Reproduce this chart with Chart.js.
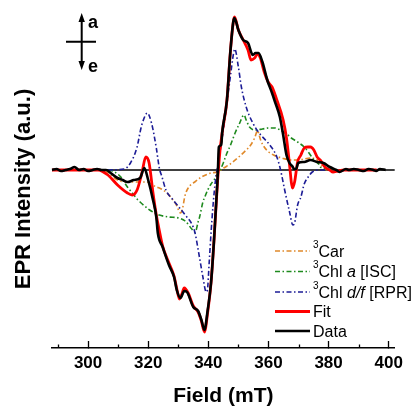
<!DOCTYPE html>
<html>
<head>
<meta charset="utf-8">
<script src="https://cdn.jsdelivr.net/npm/chart.js@4.4.0/dist/chart.umd.min.js"></script>
<style>
  html, body { margin: 0; padding: 0; background: #fff; }
</style>
</head>
<body>
<canvas id="eprChart" width="415" height="407"></canvas>
<script>
// field (mT), intensity (a.u.) pairs
const dataCurve = [
  [288,0],[289.5,1],[291,-1],[292.5,0],[294,1],[295.5,3],[297,0],[298.5,1],[300,-1],[301.5,0],[303,1],[304.5,0],[306,0],
  [307.5,-3],[309.8,-8],[311.5,-10],[313.1,-12],[315.2,-10],[317.3,-8],[318.7,2],[320.0,-10],[321.6,-30],[322.7,-47],
  [323.2,-63],[324.8,-77],[326.9,-95],[328.6,-107],[329.6,-121],[330.7,-128],[332.0,-121],[332.9,-122],[335.0,-137],
  [336.6,-141],[337.7,-150],[338.7,-160],[339.8,-140],[340.9,-113],[341.9,-70],[343.0,-13],[343.2,0],[343.5,23],
  [344.3,25],[344.6,37],[346.2,70],[347.3,117],[348.3,148],[348.7,152],[350.0,140],[351.6,130],[353.2,127],[354.8,115],
  [355.7,117],[356.7,117],[358.0,108],[359.6,90],[361.2,77],[362.2,68],[363.8,53],[364.9,35],[366.0,15],[367.0,7],
  [367.9,4],[368.6,1],[369.2,1],[369.9,7],[371.9,8],[374.0,10],[376.2,8],[378.3,7],[380.4,3],[382.6,0],[383.6,-2],
  [385.8,1],[386.8,0],[388.4,1],[390.1,0],[391.7,-1],[393.3,1],[394.9,0],[395.8,-1],[397.1,1],[399.0,0]
];

const fitCurve = [
  [288,0],[303.4,0],[306.6,-5],[309.8,-15],[313.1,-23],[314.7,-25],[316.3,-20],[317.9,-3],[319.2,13],[320.3,7],
  [321.6,-23],[322.7,-45],[323.6,-59],[324.8,-76],[326.9,-93],[328.6,-106],[329.6,-120],[330.4,-129],[331.2,-124],
  [332.0,-118],[333.3,-123],[335.0,-136],[336.6,-142],[337.7,-151],[338.7,-162],[339.8,-142],[340.9,-113],[341.9,-70],
  [343.0,-15],[343.9,20],[344.6,37],[346.2,70],[347.3,117],[348.3,148],[348.7,153],[350.0,140],[351.6,130],[353.2,120],
  [354.2,110],[355.4,112],[356.4,116],[357.3,112],[358.6,98],[359.9,88],[361.2,83],[362.8,70],[364.9,50],[366.0,32],
  [367.1,3],[367.6,-12],[368.0,-18],[368.7,-12],[369.7,8],[370.8,15],[371.9,22],[373.1,23],[374.0,23],[375.1,20],
  [376.2,13],[377.2,10],[378.8,3],[380.4,0],[381.5,-2],[383.1,-1],[385.2,0],[396,0]
];

const chlDfCurve = [
  [306.6,0],[312.0,1],[314.1,7],[316.3,23],[317.6,42],[318.4,50],[319.7,57],[321.1,47],[322.7,22],[323.7,2],[324.6,-7],
  [325.9,-20],[328.0,-29],[330.2,-37],[332.3,-45],[334.5,-54],[335.5,-62],[337.1,-88],[338.2,-107],[339.3,-122],
  [339.7,-120],[340.3,-92],[341.2,-50],[342.2,-15],[343.2,5],[344.5,30],[346.1,65],[347.4,95],[348.3,115],[348.8,121],
  [350.0,103],[351.0,83],[352.6,63],[354.8,47],[356.9,37],[359.0,30],[361.2,22],[362.8,13],[363.8,3],[364.4,-5],
  [365.4,-20],[367.1,-43],[368.1,-55],[368.7,-53],[369.7,-35],[370.8,-27],[371.9,-14],[373.0,-8],[374.6,-2],[377.2,0],[380,0]
];

const chlACurve = [
  [306.6,0],[308.8,-2],[310.9,-7],[312.0,-12],[313.1,-17],[314.7,-23],[316.3,-29],[317.3,-32],[320.5,-40],[323.7,-45],
  [326.9,-47],[330.2,-48],[332.3,-51],[334.5,-59],[335.6,-62.5],[336.6,-52],[337.1,-47],[338.2,-32],[338.7,-28],
  [339.8,-20],[340.9,-14],[341.9,-10],[343.0,-4],[344.1,1],[345.1,8],[346.2,17],[347.4,25],[348.9,37],[350.3,46],
  [351.9,55],[352.6,50],[353.7,43],[355.8,40],[358.0,41],[360.1,42],[362.2,42],[364.4,39],[366.5,35],[367.6,32],
  [369.7,28],[371.9,23],[373.5,17],[375.1,10],[376.7,6],[377.2,3],[378.8,1.5],[380.4,0],[382,0]
];

const carCurve = [
  [305.6,0],[307.6,-5],[309.8,-10],[314.1,-12],[317.3,-12],[319.5,-12],[320.5,-13],[322.7,-17],[323.7,-18],[325.9,-22],
  [328.0,-29],[329.4,-35],[330.7,-43],[331.3,-40],[332.3,-25],[333.3,-18],[334.5,-14],[335.5,-12],[337.7,-7],[340.9,-3],
  [343.0,-2],[344.1,0],[345.1,2],[347.3,6],[350.5,14],[352.6,20],[354.1,25],[355.4,32],[356.4,39.5],[356.8,36],
  [357.4,30],[358.6,23],[360.1,18],[361.7,15],[363.3,13],[364.4,12],[367.6,10],[370.8,10.5],[374.0,12],[375.3,11.5],
  [376.2,10],[377.2,5],[378.3,3],[379.1,0.5],[380.4,0]
];

const zeroLine = [[288,0],[402,0]];

const xMajorTicks = [300, 320, 340, 360, 380, 400];
const xMinorTicks = [290, 310, 330, 350, 370, 390];

// legend text pieces: [text, style] with style n / i / sup
const legendLabels = [
  [['3','sup'],['Car','n']],
  [['3','sup'],['Chl ','n'],['a','i'],[' [ISC]','n']],
  [['3','sup'],['Chl ','n'],['d/f','i'],[' [RPR]','n']],
  [['Fit','n']],
  [['Data','n']]
];

const FONT = '"Liberation Sans", Arial, sans-serif';
const toXY = arr => arr.map(p => ({x: p[0], y: p[1]}));

function line(label, pts, color, width, dash) {
  return {
    label: label,
    data: toXY(pts),
    showLine: true,
    borderColor: color,
    backgroundColor: color,
    borderWidth: width,
    borderDash: dash || [],
    pointRadius: 0,
    fill: false,
    cubicInterpolationMode: 'monotone',
    clip: false
  };
}

const dashDot = [5, 2.5, 1.5, 2.5];
const datasets = [
  line('Data', dataCurve, '#000000', 2.6),
  line('Fit', fitCurve, '#ff0000', 2.8),
  line('3Chl d/f [RPR]', chlDfCurve, '#1c1c96', 1.6, dashDot),
  line('3Chl a [ISC]', chlACurve, '#1e8a1e', 1.6, dashDot),
  line('3Car', carCurve, '#e0892a', 1.6, dashDot),
  Object.assign(line('zero', zeroLine, '#000000', 1.3), {cubicInterpolationMode: 'default', tension: 0})
];
// legend order -> dataset index
const legendOrder = [4, 3, 2, 1, 0];

const decorPlugin = {
  id: 'decor',
  afterDraw(chart) {
    const ctx = chart.ctx;
    const xs = chart.scales.x;
    const axisY = xs.top;
    ctx.save();

    // minor ticks
    ctx.strokeStyle = '#000';
    ctx.lineWidth = 1.3;
    xMinorTicks.forEach(v => {
      const px = Math.round(xs.getPixelForValue(v)) + 0.5;
      ctx.beginPath();
      ctx.moveTo(px, axisY);
      ctx.lineTo(px, axisY - 3.5);
      ctx.stroke();
    });

    // absorption / emission arrow
    const ax = 81.7;
    ctx.lineWidth = 2;
    ctx.beginPath();
    ctx.moveTo(ax, 20); ctx.lineTo(ax, 63);
    ctx.moveTo(66, 41.7); ctx.lineTo(96, 41.7);
    ctx.stroke();
    ctx.fillStyle = '#000';
    ctx.beginPath();
    ctx.moveTo(ax, 13); ctx.lineTo(ax - 3.2, 22); ctx.lineTo(ax + 3.2, 22); ctx.closePath();
    ctx.moveTo(ax, 70); ctx.lineTo(ax - 3.2, 61); ctx.lineTo(ax + 3.2, 61); ctx.closePath();
    ctx.fill();
    ctx.font = 'bold 18px ' + FONT;
    ctx.textBaseline = 'alphabetic';
    ctx.textAlign = 'left';
    ctx.fillText('a', 88, 28);
    ctx.fillText('e', 88, 72);

    // legend
    const rowY = [251, 271.5, 292, 311.5, 331];
    legendOrder.forEach((di, i) => {
      const ds = chart.data.datasets[di];
      const y = rowY[i];
      ctx.strokeStyle = ds.borderColor;
      ctx.lineWidth = ds.borderWidth;
      ctx.setLineDash(ds.borderDash);
      ctx.beginPath();
      ctx.moveTo(275, y); ctx.lineTo(310, y);
      ctx.stroke();
      ctx.setLineDash([]);
      let x = 313;
      const base = y + 5.8;
      legendLabels[i].forEach(([txt, st]) => {
        if (st === 'sup') {
          ctx.font = '10px ' + FONT;
          ctx.fillText(txt, x, base - 9);
        } else {
          ctx.font = (st === 'i' ? 'italic ' : '') + '16px ' + FONT;
          ctx.fillText(txt, x, base);
        }
        x += ctx.measureText(txt).width;
      });
    });
    ctx.restore();
  }
};

const config = {
  type: 'scatter',
  data: { datasets: datasets },
  options: {
    responsive: false,
    animation: false,
    layout: { padding: { left: 0, right: 7.7, top: 30, bottom: 0 } },
    plugins: { legend: { display: false }, tooltip: { enabled: false } },
    scales: {
      x: {
        type: 'linear',
        min: 288,
        max: 402,
        afterBuildTicks: s => { s.ticks = xMajorTicks.map(v => ({ value: v })); },
        afterFit: s => { s.height = 59; },
        grid: { display: true, drawOnChartArea: false, drawTicks: true, tickLength: -7, tickWidth: 1.3, tickColor: '#000' },
        border: { display: true, color: '#000', width: 1.5 },
        ticks: {
          color: '#000',
          autoSkip: false,
          maxRotation: 0,
          padding: 12,
          font: { family: FONT, size: 17, weight: 'bold' }
        },
        title: {
          display: true,
          text: 'Field (mT)',
          color: '#000',
          padding: 0,
          font: { family: FONT, size: 21, weight: 'bold', lineHeight: 1 }
        }
      },
      y: {
        type: 'linear',
        min: -178,
        max: 140,
        afterFit: s => { s.width = 52; },
        grid: { display: false },
        border: { display: false },
        ticks: { display: false },
        title: {
          display: true,
          text: 'EPR Intensity (a.u.)',
          color: '#000',
          padding: { top: 13, bottom: 0 },
          font: { family: FONT, size: 22, weight: 'bold', lineHeight: 1 }
        }
      }
    }
  },
  plugins: [decorPlugin]
};

new Chart(document.getElementById('eprChart').getContext('2d'), config);
</script>
</body>
</html>
